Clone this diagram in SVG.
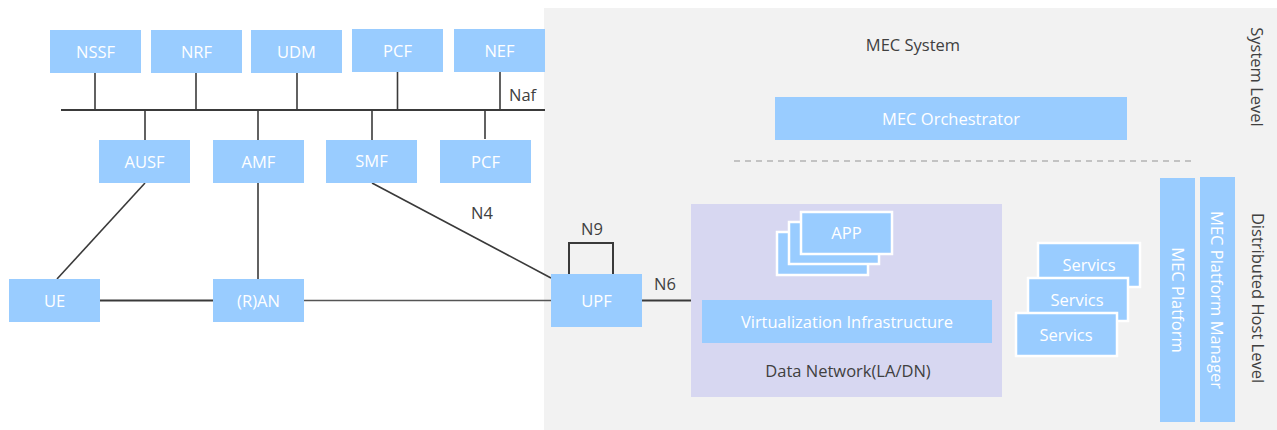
<svg xmlns="http://www.w3.org/2000/svg" width="1277" height="430" viewBox="0 0 1277 430">
  <style>
    text { font-family: "Open Sans", "Noto Sans", sans-serif; font-size: 16.5px; }
    .box { fill: #99ccff; }
    .lbl { fill: #ffffff; text-anchor: middle; }
    .txt { fill: #404040; }
    .mid { text-anchor: middle; }
    .stack { fill: #99ccff; stroke: #ffffff; stroke-width: 2.5; }
    .ln { stroke: #3a3a3a; stroke-width: 1.6; fill: none; }
  </style>

  <!-- MEC system area -->
  <rect id="mec-system" x="544" y="8" width="733" height="422" fill="#f2f2f2"/>
  <text class="txt mid" x="913" y="51">MEC System</text>
  <text class="txt" transform="translate(1251,77) rotate(90)" text-anchor="middle">System Level</text>
  <text class="txt" transform="translate(1252,298) rotate(90)" text-anchor="middle">Distributed Host Level</text>
  <line x1="734" y1="161" x2="1195" y2="161" stroke="#b4b4b4" stroke-width="1.6" stroke-dasharray="6,5"/>

  <!-- connectors -->
  <g id="connectors" class="ln">
    <line x1="61" y1="110" x2="545" y2="110" stroke-width="2.2"/>
    <line x1="95" y1="73" x2="95" y2="110"/>
    <line x1="196" y1="73" x2="196" y2="110"/>
    <line x1="297" y1="73" x2="297" y2="110"/>
    <line x1="397.5" y1="72" x2="397.5" y2="110"/>
    <line x1="500" y1="72" x2="500" y2="110"/>
    <line x1="145" y1="110" x2="145" y2="140"/>
    <line x1="258" y1="110" x2="258" y2="140"/>
    <line x1="372" y1="110" x2="372" y2="140"/>
    <line x1="485" y1="110" x2="485" y2="139"/>
    <line x1="145" y1="183" x2="57" y2="279"/>
    <line x1="258" y1="183" x2="258" y2="279"/>
    <line x1="372" y1="183" x2="551" y2="278"/>
    <line x1="100" y1="300.5" x2="213" y2="300.5" stroke-width="2"/>
    <line x1="304" y1="300.5" x2="551" y2="300.5" stroke="#555555"/>
    <line x1="642" y1="300.5" x2="691" y2="300.5" stroke-width="2"/>
    <polyline points="569,274 569,243 613,243 613,274" stroke-width="2"/>
  </g>
  <text class="txt" x="509" y="101">Naf</text>
  <text class="txt mid" x="482" y="219">N4</text>
  <text class="txt mid" x="592" y="235">N9</text>
  <text class="txt mid" x="665" y="290">N6</text>

  <!-- core network functions -->
  <g id="nssf"><rect class="box" x="50" y="30" width="91" height="43"/><text class="lbl" x="95.5" y="57.5">NSSF</text></g>
  <g id="nrf"><rect class="box" x="151" y="30" width="91" height="43"/><text class="lbl" x="196.5" y="57.5">NRF</text></g>
  <g id="udm"><rect class="box" x="251" y="30" width="91" height="43"/><text class="lbl" x="296.5" y="57.5">UDM</text></g>
  <g id="pcf-top"><rect class="box" x="352" y="29" width="91" height="43"/><text class="lbl" x="397.5" y="56.5">PCF</text></g>
  <g id="nef"><rect class="box" x="454" y="29" width="91" height="43"/><text class="lbl" x="499.5" y="56.5">NEF</text></g>

  <g id="ausf"><rect class="box" x="99" y="140" width="91" height="43"/><text class="lbl" x="144.5" y="167.5">AUSF</text></g>
  <g id="amf"><rect class="box" x="213" y="140" width="91" height="43"/><text class="lbl" x="258.5" y="167.5">AMF</text></g>
  <g id="smf"><rect class="box" x="326" y="140" width="91" height="43"/><text class="lbl" x="371.5" y="166.5">SMF</text></g>
  <g id="pcf-bottom"><rect class="box" x="440" y="140" width="91" height="43"/><text class="lbl" x="485.5" y="167.5">PCF</text></g>

  <g id="ue"><rect class="box" x="9" y="279" width="91" height="43"/><text class="lbl" x="54.5" y="306.5">UE</text></g>
  <g id="ran"><rect class="box" x="213" y="279" width="91" height="43"/><text class="lbl" x="258.5" y="306.5">(R)AN</text></g>
  <g id="upf"><rect class="box" x="551" y="274" width="91" height="53"/><text class="lbl" x="596.5" y="306.5">UPF</text></g>

  <!-- MEC orchestrator -->
  <g id="mec-orchestrator"><rect class="box" x="775" y="97" width="352" height="43"/><text class="lbl" x="951" y="124.5">MEC Orchestrator</text></g>

  <!-- data network -->
  <g id="data-network">
    <rect x="691" y="204" width="311" height="193" fill="#d7d7f1"/>
    <text class="txt mid" x="848" y="377">Data Network(LA/DN)</text>
  </g>
  <g id="app">
    <rect class="stack" x="777" y="232" width="91" height="43"/>
    <rect class="stack" x="789" y="222" width="90" height="42"/>
    <rect class="stack" x="801" y="212" width="91" height="42"/>
    <text class="lbl" x="846.5" y="238.5">APP</text>
  </g>
  <g id="virtualization"><rect class="box" x="702" y="300" width="290" height="43"/><text class="lbl" x="847" y="327.5">Virtualization Infrastructure</text></g>

  <!-- MEC services -->
  <g id="services">
    <rect class="stack" x="1038" y="243" width="102" height="44"/>
    <text class="lbl" x="1089" y="270.5">Servics</text>
    <rect class="stack" x="1028" y="278" width="100" height="43"/>
    <text class="lbl" x="1077" y="305.5">Servics</text>
    <rect class="stack" x="1016" y="313" width="101" height="43"/>
    <text class="lbl" x="1066" y="340.5">Servics</text>
  </g>

  <!-- MEC platform and manager -->
  <g id="mec-platform"><rect class="box" x="1160" y="178" width="35" height="244"/><text class="lbl" transform="translate(1172,300) rotate(90)">MEC Platform</text></g>
  <g id="mec-platform-manager"><rect class="box" x="1200" y="177" width="35" height="245"/><text class="lbl" transform="translate(1211,300) rotate(90)">MEC Platform Manager</text></g>
</svg>
